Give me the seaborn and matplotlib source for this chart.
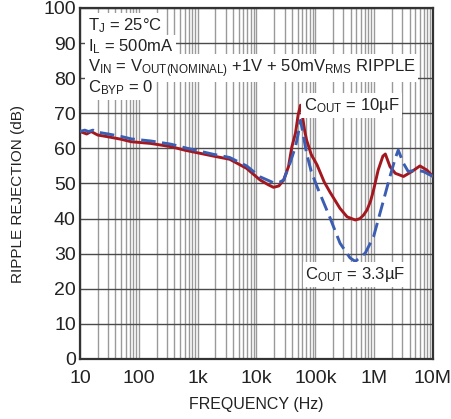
import seaborn as sns
import matplotlib.pyplot as plt
import matplotlib.ticker as mticker
import pandas as pd

# ripple rejection, frequency in Hz
freq_10u = [10, 13, 15.5, 20, 30, 50, 74, 160, 350, 600, 1860, 3500, 6800, 11500,
            16000, 19500, 24000, 29000, 35000, 40000, 46000, 51000, 56000, 58500,
            62000, 66000, 71000, 85000, 107000, 141000, 178000, 263000, 347000,
            479000, 575000, 660000, 759000, 870000, 977000, 1170000, 1410000,
            1550000, 1860000, 2290000, 3160000, 4370000, 6000000, 7900000, 10000000]
rej_10u = [64.8, 64.1, 64.8, 63.8, 63.3, 62.6, 61.9, 61.4, 60.5, 59.5, 57.8, 56.9, 54.3, 51.0,
           49.6, 48.9, 49.3, 51.0, 54.8, 60.5, 64.3, 69.5, 72.3, 71.0,
           68.0, 65.0, 62.4, 58.3, 55.3, 50.5, 47.5, 42.9, 40.5,
           39.6, 40.0, 41.0, 42.5, 45.0, 48.1, 53.8, 57.8,
           58.4, 54.8, 52.9, 52.0, 53.4, 55.0, 53.8, 52.0]

freq_3u3 = [10, 12, 14, 16.6, 20, 30, 50, 74, 160, 350, 600, 1860, 3500, 6800, 11500,
            19500, 25000, 29000, 37000, 46000, 51000, 56000, 63000, 71000, 85000,
            107000, 178000, 263000, 389000, 479000, 708000, 977000, 1350000, 1860000,
            2290000, 2570000, 3160000, 3800000, 5250000, 6900000, 10000000]
rej_3u3 = [64.8, 65.2, 64.8, 65.2, 64.6, 64.1, 63.4, 62.7, 62.1, 61.2, 60.2, 58.3, 57.4, 55.0, 51.9,
           50.2, 50.4, 51.0, 55.7, 60.5, 64.0, 68.0, 63.5, 58.6, 53.5,
           49.1, 40.2, 33.0, 28.8, 27.8, 30.2, 34.8, 43.4, 52.0,
           57.2, 59.5, 55.7, 53.4, 53.8, 53.4, 52.0]

x_ticks = [10, 100, 1e3, 1e4, 1e5, 1e6, 1e7]
x_tick_labels = ["10", "100", "1k", "10k", "100k", "1M", "10M"]
y_ticks = list(range(0, 101, 10))

sns.set_style("whitegrid")
plt.rcParams["font.family"] = ["Liberation Sans", "DejaVu Sans"]
plt.rcParams["mathtext.default"] = "regular"

red = "#A3181F"
blue = "#3B5EB2"

fig = plt.figure(figsize=(4.51, 4.19), dpi=100)
ax = fig.add_axes([0.1774, 0.1432, 0.7826, 0.8378])

df10 = pd.DataFrame({"f": freq_10u, "dB": rej_10u})
df33 = pd.DataFrame({"f": freq_3u3, "dB": rej_3u3})

sns.lineplot(data=df10, x="f", y="dB", ax=ax, color=red, lw=2.1, zorder=4)
sns.lineplot(data=df33, x="f", y="dB", ax=ax, color=blue, lw=2.1, zorder=5)
ax.lines[-1].set_dashes([5.0, 2.2])

ax.set_xscale("log")
ax.set_xlim(10, 1e7)
ax.set_ylim(0, 100)
ax.xaxis.set_major_locator(mticker.FixedLocator(x_ticks))
ax.xaxis.set_major_formatter(mticker.FixedFormatter(x_tick_labels))
ax.xaxis.set_minor_locator(mticker.LogLocator(base=10, subs=range(2, 10), numticks=20))
ax.xaxis.set_minor_formatter(mticker.NullFormatter())
ax.set_yticks(y_ticks)

ax.grid(False)
ax.yaxis.grid(True, which="major", color="#4a4a4a", lw=1.0)
ax.xaxis.grid(True, which="major", color="#9a9a9a", lw=1.0)
ax.xaxis.grid(True, which="minor", color="#9a9a9a", lw=1.0)
ax.set_axisbelow(True)
for gl in ax.yaxis.get_gridlines():
    gl.set_zorder(0.7)
ax.tick_params(axis="both", which="both", length=0, colors="#222222")
ax.tick_params(axis="x", labelsize=14, pad=8)
ax.tick_params(axis="y", labelsize=14, pad=3)

for sp in ax.spines.values():
    sp.set_color("#333333")
    sp.set_linewidth(1.6)

ax.set_xlabel("FREQUENCY (Hz)", fontsize=11.5, color="#222222", labelpad=7)
ax.set_ylabel("RIPPLE REJECTION (dB)", fontsize=11, color="#222222")
ax.yaxis.set_label_coords(-0.155, 0.47)

box = dict(facecolor="white", edgecolor="none", pad=2)
notes = [r"T$_J$ = 25°C", r"I$_L$ = 500mA",
         r"V$_{IN}$ = V$_{OUT(NOMINAL)}$ +1V + 50mV$_{RMS}$ RIPPLE", r"C$_{BYP}$ = 0"]
note_y = [93.7, 87.6, 81.8, 75.9]
for txt, yy in zip(notes, note_y):
    ax.text(13.5, yy, txt, fontsize=12, color="#222222", va="baseline", ha="left",
            bbox=box, zorder=6)

ax.text(6.3e4, 71.0, r"C$_{OUT}$ = 10µF", fontsize=12, color="#222222",
        va="baseline", ha="left", bbox=box, zorder=6)
ax.text(6.8e4, 22.8, r"C$_{OUT}$ = 3.3µF", fontsize=12, color="#222222",
        va="baseline", ha="left", bbox=box, zorder=6)

plt.savefig("out.png", dpi=100)
